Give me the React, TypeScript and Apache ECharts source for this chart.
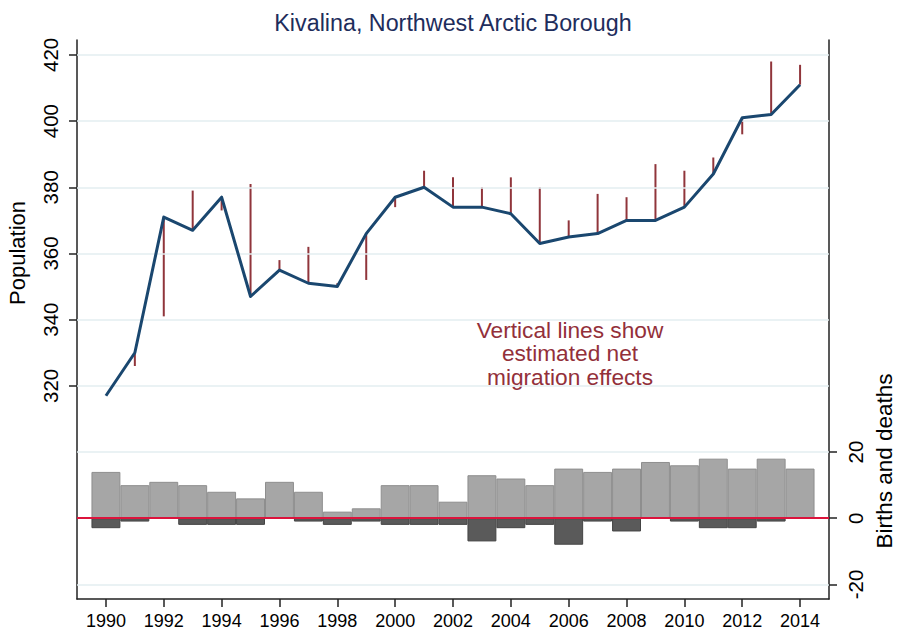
import React, { useEffect, useRef } from 'react';
import * as echarts from 'echarts';

const years = [1990, 1991, 1992, 1993, 1994, 1995, 1996, 1997, 1998, 1999, 2000, 2001, 2002, 2003, 2004, 2005, 2006, 2007, 2008, 2009, 2010, 2011, 2012, 2013, 2014];
const population = [317, 330, 371, 367, 377, 347, 355, 351, 350, 366, 377, 380, 374, 374, 372, 363, 365, 366, 370, 370, 374, 384, 401, 402, 411];
// population expected from previous year + births - deaths (start of the migration line)
const expectedPop = [null, 326, 341, 379, 373, 381, 358, 362, 351, 352, 374, 385, 383, 380, 383, 380, 370, 378, 377, 387, 385, 389, 396, 418, 417];
const births = [14, 10, 11, 10, 8, 6, 11, 8, 2, 3, 10, 10, 5, 13, 12, 10, 15, 14, 15, 17, 16, 18, 15, 18, 15];
const deaths = [3, 1, 0, 2, 2, 2, 0, 1, 2, 1, 2, 2, 2, 7, 3, 2, 8, 1, 4, 0, 1, 3, 3, 1, 0];
const xTickYears = [1990, 1992, 1994, 1996, 1998, 2000, 2002, 2004, 2006, 2008, 2010, 2012, 2014];
const popTicks = [320, 340, 360, 380, 400, 420];
const bdTicks = [-20, 0, 20];
const gridLevels = [260, 280, 300, 320, 340, 360, 380, 400, 420];

const FONT = 'Liberation Sans, Arial, sans-serif';

export default function App() {
  const ref = useRef<HTMLDivElement>(null);
  useEffect(() => {
    const chart = echarts.init(ref.current!, null, { renderer: 'svg' });
    const gridLeft = 77;
    const gridRight = 68;
    const plotW = 897 - gridLeft - gridRight;
    const barW = plotW / 26;

    const migData = years
      .map((y, i) => [y, population[i], expectedPop[i]])
      .filter((d) => d[2] !== null);

    chart.setOption({
      animation: false,
      backgroundColor: '#ffffff',
      textStyle: { fontFamily: FONT },
      grid: { left: gridLeft, right: gridRight, top: 40, bottom: 35 },
      xAxis: {
        type: 'value',
        min: 1989,
        max: 2015,
        splitLine: { show: false },
        axisLine: { show: true, onZero: false, lineStyle: { color: '#222', width: 1.5 } },
        axisTick: { show: true, customValues: xTickYears, length: 8, lineStyle: { color: '#222', width: 1.5 } },
        axisLabel: {
          customValues: xTickYears,
          formatter: (v: number) => String(v),
          fontSize: 18,
          color: '#000',
          margin: 13,
          fontFamily: FONT,
        },
      },
      yAxis: [
        {
          type: 'value',
          position: 'left',
          min: 255.6,
          max: 424.5,
          splitLine: { show: false },
          axisLine: { show: true, lineStyle: { color: '#222', width: 1.5 } },
          axisTick: { show: true, customValues: popTicks, length: 8, lineStyle: { color: '#222', width: 1.5 } },
          axisLabel: {
            customValues: popTicks,
            formatter: (v: number) => String(v),
            rotate: 90,
            fontSize: 20.5,
            color: '#000',
            margin: 16,
            fontFamily: FONT,
          },
        },
        {
          type: 'value',
          position: 'right',
          min: -24.4,
          max: 144.5,
          splitLine: { show: false },
          axisLine: { show: true, lineStyle: { color: '#222', width: 1.5 } },
          axisTick: { show: true, customValues: bdTicks, length: 8, lineStyle: { color: '#222', width: 1.5 } },
          axisLabel: {
            customValues: bdTicks,
            formatter: (v: number) => String(v),
            rotate: 90,
            fontSize: 20.5,
            color: '#000',
            margin: 16,
            fontFamily: FONT,
          },
        },
      ],
      series: [
        {
          name: 'grid',
          type: 'line',
          yAxisIndex: 0,
          data: [],
          z: 1,
          silent: true,
          markLine: {
            silent: true,
            symbol: ['none', 'none'],
            label: { show: false },
            lineStyle: { color: '#e3eef0', width: 1.5, type: 'solid' },
            data: gridLevels.map((v) => ({ yAxis: v })),
          },
        },
        {
          name: 'zero',
          type: 'line',
          yAxisIndex: 1,
          data: [],
          z: 2,
          silent: true,
          markLine: {
            silent: true,
            symbol: ['none', 'none'],
            label: { show: false },
            lineStyle: { color: '#dc143c', width: 2, type: 'solid' },
            data: [{ yAxis: 0 }],
          },
        },
        {
          name: 'Births',
          type: 'bar',
          yAxisIndex: 1,
          stack: 'bd',
          barWidth: barW,
          z: 3,
          itemStyle: { color: '#a6a6a6', borderColor: '#8e8e8e', borderWidth: 1 },
          data: years.map((y, i) => [y, births[i]]),
        },
        {
          name: 'Deaths',
          type: 'bar',
          yAxisIndex: 1,
          stack: 'bd',
          barWidth: barW,
          z: 3,
          itemStyle: { color: '#5a5a5a', borderColor: '#444444', borderWidth: 1 },
          data: years.map((y, i) => [y, -deaths[i]]),
        },
        {
          name: 'Migration',
          type: 'custom',
          yAxisIndex: 0,
          z: 4,
          encode: { x: 0, y: [1, 2] },
          data: migData,
          renderItem: (params: any, api: any) => {
            const x = api.value(0);
            const p1 = api.coord([x, api.value(1)]);
            const p2 = api.coord([x, api.value(2)]);
            return {
              type: 'line',
              shape: { x1: p1[0], y1: p1[1], x2: p2[0], y2: p2[1] },
              style: { stroke: '#90353b', lineWidth: 2 },
            };
          },
        },
        {
          name: 'Population',
          type: 'line',
          yAxisIndex: 0,
          z: 5,
          showSymbol: false,
          symbol: 'none',
          lineStyle: { color: '#1a476f', width: 3, join: 'round' },
          data: years.map((y, i) => [y, population[i]]),
        },
      ],
      graphic: [
        {
          type: 'text',
          x: 453,
          y: 23,
          style: {
            text: 'Kivalina, Northwest Arctic Borough',
            fontSize: 23.3,
            fontFamily: FONT,
            fill: '#1e2d5c',
            align: 'center',
            verticalAlign: 'middle',
          },
        },
        {
          type: 'text',
          x: 17,
          y: 253,
          rotation: Math.PI / 2,
          style: {
            text: 'Population',
            fontSize: 22,
            fontFamily: FONT,
            fill: '#000',
            align: 'center',
            verticalAlign: 'middle',
          },
        },
        {
          type: 'text',
          x: 884,
          y: 461,
          rotation: Math.PI / 2,
          style: {
            text: 'Births and deaths',
            fontSize: 22.5,
            fontFamily: FONT,
            fill: '#000',
            align: 'center',
            verticalAlign: 'middle',
          },
        },
        {
          type: 'text',
          x: 570,
          y: 353,
          style: {
            text: 'Vertical lines show\nestimated net\nmigration effects',
            fontSize: 22.7,
            lineHeight: 23.5,
            fontFamily: FONT,
            fill: '#93303a',
            align: 'center',
            verticalAlign: 'middle',
          },
        },
      ],
    });
    return () => chart.dispose();
  }, []);
  return (
    <div
      ref={ref}
      style={{ position: 'fixed', left: 0, top: 0, width: 897, height: 634, background: '#fff' }}
    />
  );
}
